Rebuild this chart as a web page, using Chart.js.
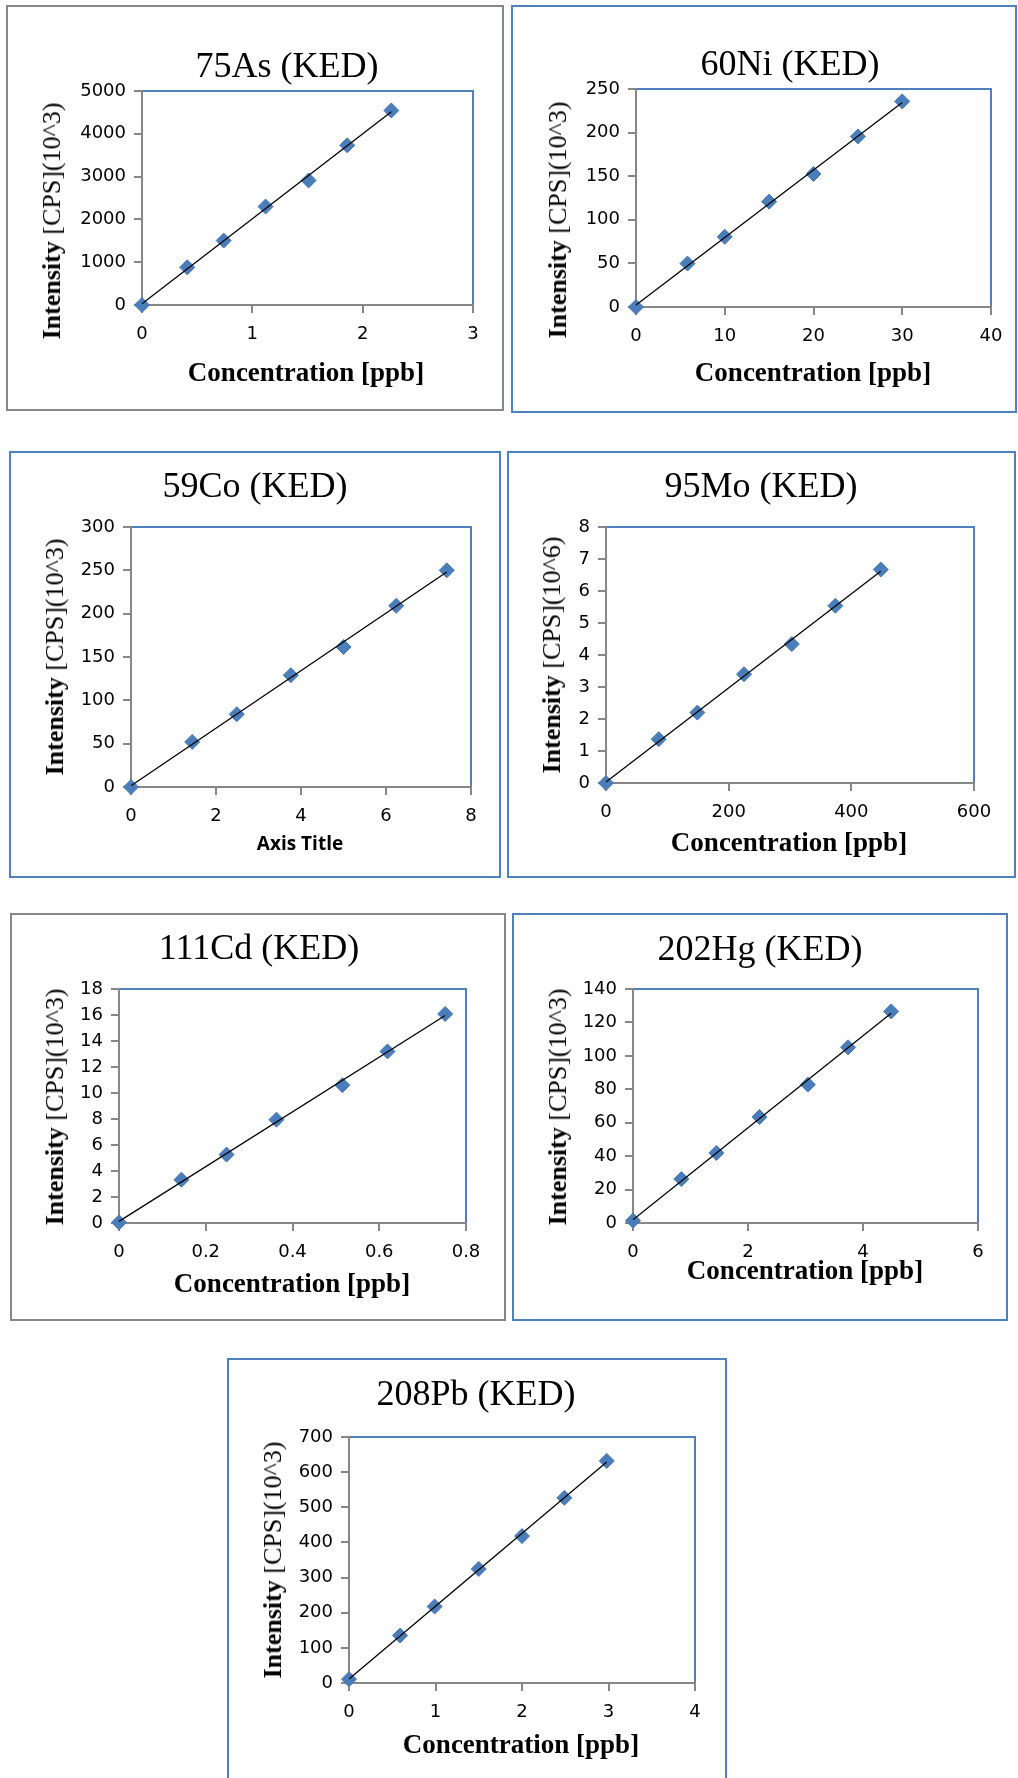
<!DOCTYPE html>
<html>
<head>
<meta charset="utf-8">
<script src="https://cdn.jsdelivr.net/npm/chart.js@4/dist/chart.umd.min.js"></script>
<style>
  html, body { margin: 0; padding: 0; background: #fff; overflow: hidden; }
  body { position: relative; width: 1018px; height: 1778px; }
  .panel { position: absolute; }
  .panel canvas { position: absolute; left: 0; top: 0; }
  .txt { position: absolute; white-space: nowrap; line-height: 1; color: #000; transform: translate(-50%, -50%); }
  .ttl { font-family: "Liberation Serif", "Times New Roman", serif; font-size: 36px; }
  .xt { font-family: "Liberation Serif", "Times New Roman", serif; font-size: 27px; font-weight: bold; }
  .yt { font-family: "Liberation Serif", "Times New Roman", serif; font-size: 26px; transform: translate(-50%, -50%) rotate(-90deg); }
  .yt b { font-weight: bold; }
  .xs { font-family: "Open Sans", sans-serif; font-size: 19px; font-weight: bold; }
</style>
</head>
<body>
<script>
const asConc = [0, 0.41, 0.74, 1.12, 1.51, 1.86, 2.26];
const asInt  = [0, 880, 1505, 2300, 2910, 3730, 4545];

const niConc = [0, 5.8, 10, 15, 20, 25, 30];
const niInt  = [0, 49.8, 80.5, 120.8, 152.6, 195.6, 235.8];

const coConc = [0, 1.44, 2.49, 3.76, 5.0, 6.24, 7.43];
const coInt  = [0, 52, 84, 129, 161.5, 209, 250];

const moConc = [0, 86, 149, 225, 303, 374, 448];
const moInt  = [0, 1.37, 2.2, 3.4, 4.34, 5.54, 6.67];

const cdConc = [0, 0.144, 0.248, 0.363, 0.515, 0.619, 0.752];
const cdInt  = [0.05, 3.33, 5.26, 7.95, 10.6, 13.2, 16.08];

const hgConc = [0, 0.84, 1.45, 2.2, 3.04, 3.74, 4.49];
const hgInt  = [1.4, 26.3, 41.9, 63.4, 82.8, 105.1, 126.6];

const pbConc = [0, 0.59, 0.99, 1.5, 2.0, 2.49, 2.98];
const pbInt  = [11, 135, 217.6, 324.5, 418, 527, 632];

// limites dos eixos: [max, passo]
const xAxes = [[3, 1], [40, 10], [8, 2], [600, 200], [0.8, 0.2], [6, 2], [4, 1]];
const yAxes = [[5000, 1000], [250, 50], [300, 50], [8, 1], [18, 2], [140, 20], [700, 100]];

const titulos = ["75As (KED)", "60Ni (KED)", "59Co (KED)", "95Mo (KED)", "111Cd (KED)", "202Hg (KED)", "208Pb (KED)"];
const unidades = ["(10^3)", "(10^3)", "(10^3)", "(10^6)", "(10^3)", "(10^3)", "(10^3)"];
const eixoX = ["Concentration [ppb]", "Concentration [ppb]", "Axis Title", "Concentration [ppb]",
               "Concentration [ppb]", "Concentration [ppb]", "Concentration [ppb]"];

const dadosX = [asConc, niConc, coConc, moConc, cdConc, hgConc, pbConc];
const dadosY = [asInt, niInt, coInt, moInt, cdInt, hgInt, pbInt];

// layout de cada painel (coordenadas da página)
const GRAY = "#878787", BLUE = "#4f81bd";
const paineis = [
  { box: [6, 5, 504, 411], cor: GRAY, plot: [142, 91, 473, 305], t: [287, 65], yt: [52, 221], xt: [306, 372] },
  { box: [511, 5, 1017, 413], cor: BLUE, plot: [636, 89, 991, 307], t: [790, 63], yt: [558, 220], xt: [813, 372] },
  { box: [9, 451, 501, 878], cor: BLUE, plot: [131, 527, 471, 787], t: [255, 485], yt: [55, 657], xt: [300, 843] },
  { box: [507, 451, 1016, 878], cor: BLUE, plot: [606, 527, 974, 783], t: [761, 485], yt: [552, 655], xt: [789, 842] },
  { box: [10, 913, 506, 1321], cor: GRAY, plot: [119, 989, 466, 1223], t: [259, 947], yt: [55, 1107], xt: [292, 1283] },
  { box: [512, 913, 1008, 1321], cor: BLUE, plot: [633, 989, 978, 1223], t: [760, 948], yt: [558, 1107], xt: [805, 1270] },
  { box: [227, 1358, 727, 1800], cor: BLUE, plot: [349, 1437, 695, 1683], t: [476, 1393], yt: [273, 1560], xt: [521, 1744] }
];

// regressão linear (linha de tendência)
function ajuste(xs, ys) {
    let n = xs.length, sx = 0, sy = 0, sxx = 0, sxy = 0;
    for (let i = 0; i < n; i++) {
        sx += xs[i]; sy += ys[i]; sxx += xs[i] * xs[i]; sxy += xs[i] * ys[i];
    }
    let a = (n * sxy - sx * sy) / (n * sxx - sx * sx);
    let b = (sy - a * sx) / n;
    return x => a * x + b;
}

// borda azul da área do gráfico (topo e direita)
const bordaPlot = {
    id: "bordaPlot",
    beforeDraw(chart) {
        const { ctx, chartArea: a } = chart;
        ctx.save();
        ctx.strokeStyle = BLUE;
        ctx.lineWidth = 2;
        ctx.beginPath();
        ctx.moveTo(a.left, a.top);
        ctx.lineTo(a.right, a.top);
        ctx.lineTo(a.right, a.bottom);
        ctx.stroke();
        ctx.restore();
    }
};

function addTexto(cls, html, pos) {
    let d = document.createElement("div");
    d.className = "txt " + cls;
    d.innerHTML = html;
    d.style.left = pos[0] + "px";
    d.style.top = pos[1] + "px";
    document.body.appendChild(d);
}

const fmt = v => String(Number(v.toFixed(3)));

paineis.forEach((p, i) => {
    let [bl, bt, br, bb] = p.box;
    let [pl, pt, pr, pb] = p.plot;
    let w = br - bl, h = bb - bt;

    let div = document.createElement("div");
    div.className = "panel";
    div.style.left = bl + "px";
    div.style.top = bt + "px";
    div.style.width = w + "px";
    div.style.height = h + "px";
    div.style.boxShadow = "inset 0 0 0 2px " + p.cor;
    let cv = document.createElement("canvas");
    cv.width = w;
    cv.height = h;
    div.appendChild(cv);
    document.body.appendChild(div);

    let xs = dadosX[i], ys = dadosY[i];
    let f = ajuste(xs, ys);
    let xFim = Math.max(...xs);

    let eixo = (max, passo) => ({
        type: "linear",
        min: 0,
        max: max,
        ticks: {
            stepSize: passo,
            color: "#000",
            font: { family: "DejaVu Sans", size: 18 },
            callback: fmt,
            autoSkip: false,
            maxRotation: 0
        },
        grid: { display: true, drawOnChartArea: false, drawTicks: true, tickLength: 8, color: GRAY, lineWidth: 2 },
        border: { display: true, color: GRAY, width: 2 }
    });

    let sx = eixo(xAxes[i][0], xAxes[i][1]);
    sx.ticks.padding = 11;
    sx.afterFit = s => { s.height = bb - pb; };
    let sy = eixo(yAxes[i][0], yAxes[i][1]);
    sy.ticks.padding = 8;
    sy.afterFit = s => { s.width = pl - bl; };

    new Chart(cv.getContext("2d"), {
        type: "scatter",
        data: {
            datasets: [
                {
                    data: [{ x: 0, y: f(0) }, { x: xFim, y: f(xFim) }],
                    showLine: true,
                    borderColor: "#000",
                    borderWidth: 1.3,
                    pointRadius: 0,
                    order: 0,
                    clip: false
                },
                {
                    data: xs.map((x, k) => ({ x: x, y: ys[k] })),
                    showLine: false,
                    pointStyle: "rectRot",
                    pointRadius: 7.5,
                    pointBackgroundColor: "#4a7ebb",
                    pointBorderColor: "#4677b4",
                    pointBorderWidth: 1,
                    order: 1,
                    clip: false
                }
            ]
        },
        options: {
            responsive: false,
            animation: false,
            events: [],
            layout: { padding: { left: 0, top: pt - bt, right: br - pr, bottom: 0 } },
            plugins: { legend: { display: false }, tooltip: { enabled: false }, title: { display: false } },
            scales: { x: sx, y: sy }
        },
        plugins: [bordaPlot]
    });

    addTexto("ttl", titulos[i], p.t);
    addTexto("yt", "<b>Intensity</b> [CPS]" + unidades[i], p.yt);
    addTexto(i === 2 ? "xs" : "xt", eixoX[i], p.xt);
});
</script>
</body>
</html>
